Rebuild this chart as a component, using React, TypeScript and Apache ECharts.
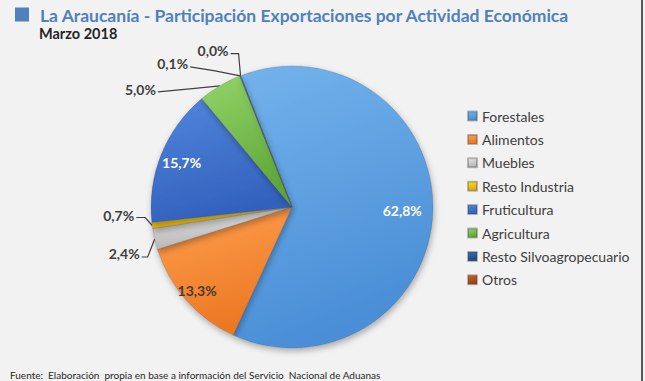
import React, { useEffect, useRef } from "react";
import * as echarts from "echarts";

const categories = [
  "Forestales",
  "Alimentos",
  "Muebles",
  "Resto Industria",
  "Fruticultura",
  "Agricultura",
  "Resto Silvoagropecuario",
  "Otros",
];
const shares = [62.8, 13.3, 2.4, 0.7, 15.7, 5.0, 0.1, 0.0];
const titleText = "La Araucanía - Participación Exportaciones por Actividad Económica";
const subtitleText = "Marzo 2018";
const sourceText = "Fuente:  Elaboración  propia en base a información del Servicio  Nacional de Aduanas";

// style
const sliceColors: [string, string][] = [
  ["#74b3ec", "#4a8ed6"],
  ["#ffa050", "#ec7823"],
  ["#ececec", "#b4b4b4"],
  ["#ffdc3a", "#dcac00"],
  ["#5286dc", "#3261bd"],
  ["#94d468", "#5fa838"],
  ["#3570b6", "#1d4b86"],
  ["#cf6624", "#98420e"],
];
const insideRatio: Record<number, number> = { 0: 0.75, 1: 0.86, 4: 0.81 };
const insideColor: Record<number, string> = { 0: "#ffffff", 1: "#4a3a30", 4: "#ffffff" };
// leader geometry relative to the point on the slice edge: [bend, end, textAnchor]
const leaders: Record<number, number[][]> = {
  7: [[-2, -22], [-10, -22], [-12, -25]],
  6: [[-25, -5], [-50, -9], [-52, -12]],
  5: [[-30, 3], [-62, 6], [-64, 4]],
  3: [[-7, -8], [-16, -8], [-18, -10]],
  2: [[-7, 18], [-13, 18], [-15, 14]],
};
const CENTER = [292, 207];
const RADIUS = 141;
const FONT = "Lato, 'Open Sans', sans-serif";

const fmt = (v: number) => v.toFixed(1).replace(".", ",") + "%";

export default function App() {
  const ref = useRef<HTMLDivElement>(null);
  useEffect(() => {
    if (!ref.current) return;
    const chart = echarts.init(ref.current, null, { renderer: "svg" });
    const data = categories.map((name, i) => {
      const inside = insideRatio[i] != null;
      return {
        name,
        value: shares[i],
        itemStyle: {
          color: new echarts.graphic.LinearGradient(0, 0, 0.3, 1, [
            { offset: 0, color: sliceColors[i][0] },
            { offset: 1, color: sliceColors[i][1] },
          ]),
        },
        label: inside
          ? { position: "inside", color: insideColor[i] }
          : { position: "outside", color: "#404040" },
        labelLine: { show: !inside },
      };
    });
    chart.setOption({
      animation: false,
      backgroundColor: "#f2f2f2",
      legend: {
        orient: "vertical",
        left: 467,
        top: 109,
        padding: 0,
        itemWidth: 9,
        itemHeight: 9,
        itemGap: 9.4,
        icon: "rect",
        textStyle: { fontFamily: FONT, fontSize: 14, color: "#404040", lineHeight: 14 },
        data: categories,
      },
      graphic: [
        { type: "rect", shape: { x: 15, y: 7.5, width: 14, height: 14 }, style: { fill: "#4f81bd" } },
        {
          type: "text",
          x: 40,
          y: 15,
          style: {
            text: titleText,
            font: `bold 17.5px ${FONT}`,
            fill: "#4f81bd",
            align: "left",
            verticalAlign: "middle",
          },
        },
        {
          type: "text",
          x: 39,
          y: 33,
          style: {
            text: subtitleText,
            font: `bold 14.5px ${FONT}`,
            fill: "#262626",
            align: "left",
            verticalAlign: "middle",
          },
        },
        {
          type: "text",
          x: 10,
          y: 375,
          style: {
            text: sourceText,
            font: `10px ${FONT}`,
            fill: "#262626",
            align: "left",
            verticalAlign: "middle",
          },
        },
        { type: "rect", shape: { x: 641, y: 0, width: 2, height: 381 }, style: { fill: "#555555" } },
      ],
      series: [
        {
          type: "pie",
          center: CENTER,
          radius: RADIUS,
          startAngle: 111.4,
          clockwise: true,
          avoidLabelOverlap: false,
          data,
          itemStyle: {
            borderColor: "rgba(70,70,70,0.35)",
            borderWidth: 0.6,
            shadowBlur: 6,
            shadowOffsetX: 1,
            shadowOffsetY: 3,
            shadowColor: "rgba(0,0,0,0.3)",
          },
          label: {
            show: true,
            fontFamily: FONT,
            fontWeight: "bold",
            fontSize: 14,
            formatter: (p: any) => fmt(p.value),
          },
          labelLine: {
            show: true,
            lineStyle: { color: "#404040", width: 1.2 },
          },
          labelLayout: (params: any) => {
            const i = params.dataIndex;
            if (insideRatio[i] != null) {
              const r = params.labelRect;
              const cx = r.x + r.width / 2;
              const cy = r.y + r.height / 2;
              const f = insideRatio[i] / 0.5;
              return {
                x: CENTER[0] + (cx - CENTER[0]) * f,
                y: CENTER[1] + (cy - CENTER[1]) * f,
                align: "center",
                verticalAlign: "middle",
              };
            }
            const pts = params.labelLinePoints;
            const spec = leaders[i];
            if (!pts || !spec) return {};
            const p0 = pts[0];
            return {
              x: p0[0] + spec[2][0],
              y: p0[1] + spec[2][1],
              align: "right",
              verticalAlign: "middle",
              labelLinePoints: [
                [p0[0], p0[1]],
                [p0[0] + spec[0][0], p0[1] + spec[0][1]],
                [p0[0] + spec[1][0], p0[1] + spec[1][1]],
              ],
            };
          },
        },
      ],
    });
    return () => chart.dispose();
  }, []);
  return (
    <div
      ref={ref}
      style={{ position: "fixed", left: 0, top: 0, width: 645, height: 381 }}
    />
  );
}
